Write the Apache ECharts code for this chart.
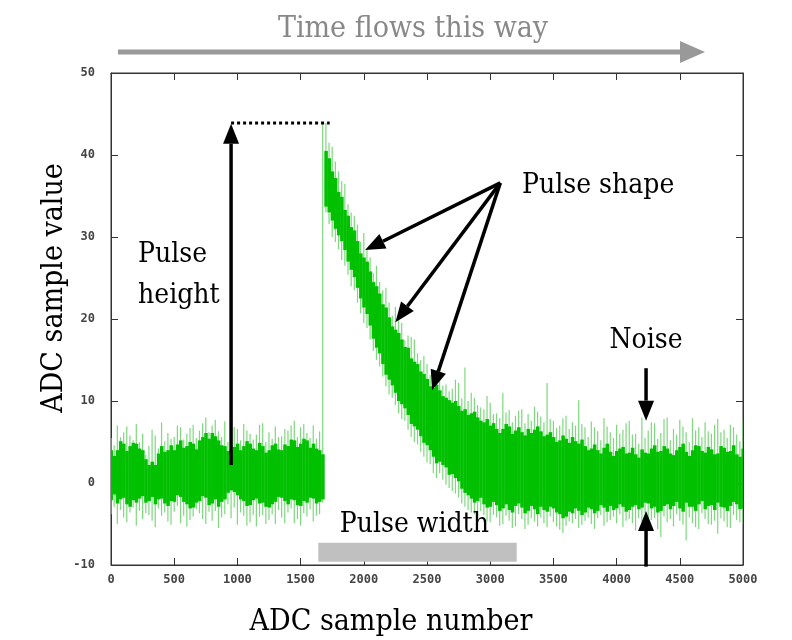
<!DOCTYPE html>
<html>
<head>
<meta charset="utf-8">
<title>ADC pulse</title>
<script src="https://cdn.jsdelivr.net/npm/echarts@6/dist/echarts.min.js"></script>
<style>
  html, body { margin: 0; padding: 0; background: #fff; }
  #main { width: 792px; height: 640px; }
</style>
</head>
<body>
<div id="main"></div>
<script>
// the trace is read as one column every 25 ADC samples (10 columns per row below)
var step = 25;

var xTicks = ['0', '500', '1000', '1500', '2000', '2500', '3000', '3500', '4000', '4500', '5000'];
var yTicks = ['-10', '0', '10', '20', '30', '40', '50'];

// dense (dark green) part of the trace: top and bottom of each column
var coreHi = [
    4.0, 3.3, 4.0, 5.1, 4.8, 3.9, 4.5, 4.9, 4.8, 4.2,
    4.0, 2.9, 2.2, 2.6, 2.2, 3.6, 4.5, 3.8, 4.0, 4.6,
    4.0, 4.7, 5.2, 4.3, 4.5, 5.0, 4.8, 4.1, 5.2, 5.6,
    6.1, 5.4, 6.1, 5.7, 5.2, 4.6, 4.5, 3.9, 4.0, 4.4,
    4.8, 4.0, 4.5, 5.1, 4.8, 4.2, 4.0, 4.9, 4.5, 3.7,
    4.0, 4.6, 4.8, 4.1, 4.0, 4.7, 4.5, 5.3, 5.2, 4.4,
    4.8, 5.4, 5.2, 4.3, 4.8, 4.2, 4.0, 3.5, 40.5, 39.6,
    38, 37.2, 35.5, 34.9, 33.3, 32.6, 31.2, 30.8, 29.5, 28.0,
    27.5, 27.0, 25.8, 24.5, 24, 23.1, 21.8, 21.4, 20.2, 19.1,
    18.7, 18.3, 17.5, 16.6, 16.5, 15.2, 14.8, 14.5, 13.6, 13.3,
    12.7, 11.8, 11.6, 12.0, 11.3, 10.6, 10.4, 10.1, 9.8, 10.0,
    9.4, 8.8, 9.0, 8.3, 8.5, 8.7, 8.0, 7.6, 7.4, 7.8,
    7.0, 7.3, 6.6, 6.1, 6.6, 7.2, 6.9, 6.0, 6.4, 6.8,
    6.2, 5.8, 6.6, 6.1, 6.5, 6.9, 6.3, 5.7, 5.9, 6.2,
    5.6, 5.0, 5.2, 5.8, 5.4, 4.9, 5.6, 5.1, 4.8, 5.3,
    4.5, 4.0, 4.2, 4.7, 4.0, 3.6, 4.3, 4.8, 3.8, 3.3,
    3.9, 4.2, 4.4, 3.6, 3.7, 4.3, 3.5, 3.1, 4.1, 3.7,
    3.6, 4.2, 4.6, 3.8, 3.9, 4.5, 4.2, 3.6, 3.4, 4.0,
    4.4, 4.8, 3.8, 3.3, 4.0, 4.6, 4.5, 3.9, 3.7, 4.4,
    4.1, 3.5, 3.6, 4.5, 4.3, 3.8, 3.9, 4.6, 3.5, 3.2,
    4.2];
var coreLo = [
    -2.1, -1.4, -2.5, -2.0, -1.8, -2.6, -2.9, -2.1, -2.4, -1.9,
    -1.6, -2.4, -2.2, -1.7, -2.6, -2.0, -1.9, -2.5, -2.8, -2.2,
    -2.3, -1.5, -1.7, -2.3, -2.6, -3.1, -3.0, -2.4, -2.2, -1.6,
    -1.8, -2.7, -2.5, -2.0, -2.9, -2.3, -2.0, -1.2, -0.9, -1.1,
    -1.5, -2.0, -2.2, -2.8, -2.7, -2.1, -1.9, -2.5, -2.4, -2.9,
    -3.0, -2.6, -2.3, -1.7, -1.8, -2.2, -2.6, -2.0, -2.1, -2.7,
    -2.8, -2.2, -2.4, -1.8, -1.9, -2.5, -2.3, -2.0, 33.7, 33.0,
    32, 31.0, 30.2, 29.5, 28.4, 27.0, 26, 25.1, 23.8, 22.5,
    21.4, 20.6, 19.2, 17.6, 16.5, 15.8, 14.5, 13.2, 12.6, 11.9,
    11, 10.0, 9.6, 9.1, 8.3, 7.2, 6.9, 6.5, 5.7, 4.9,
    4.6, 4.0, 3.2, 2.4, 2.6, 2.2, 1.9, 1.0, 1.1, 0.6,
    0.2, -0.7, -1.2, -1.5, -1.9, -2.4, -2.2, -1.8, -2.6, -3.0,
    -2.9, -2.3, -2.7, -3.4, -3.1, -2.6, -3.3, -3.6, -2.8, -2.5,
    -3.0, -3.7, -3.4, -2.8, -3.2, -3.8, -2.9, -3.3, -3.5, -2.9,
    -3.1, -3.6, -3.8, -4.3, -4.1, -3.5, -3.7, -3.1, -3.4, -3.9,
    -3.6, -3.0, -3.2, -3.7, -3.4, -2.7, -3.0, -3.5, -2.8, -3.3,
    -3.1, -2.6, -2.9, -3.5, -3.3, -2.9, -2.7, -3.2, -3.0, -2.4,
    -2.5, -3.1, -2.9, -3.6, -3.4, -2.8, -2.6, -3.2, -2.8, -2.3,
    -3.1, -3.5, -2.4, -2.9, -2.9, -3.4, -2.6, -2.2, -3.2, -2.8,
    -2.7, -3.3, -2.4, -2.9, -3.0, -3.4, -2.8, -2.3, -2.6, -3.2,
    -3.1];

// light green spikes sticking out of the dense part
var spikeHi = [
    5.5, 4.6, 7.0, 5.6, 6.2, 6.9, 5.8, 5.2, 7.2, 5.0,
    6.0, 3.4, 4.5, 6.5, 5.8, 4.2, 7.4, 5.1, 6.1, 5.4,
    5.6, 7.0, 6.8, 5.3, 6.0, 6.7, 7.1, 5.5, 6.4, 7.3,
    8.0, 6.2, 7.0, 7.7, 6.3, 5.6, 7.5, 5.0, 5.4, 6.8,
    6.6, 5.2, 7.2, 6.4, 6.0, 5.3, 5.9, 7.1, 7.3, 5.0,
    6.2, 5.4, 6.9, 5.6, 5.7, 6.6, 6.4, 7.0, 7.6, 5.6,
    6.8, 7.2, 6.1, 5.5, 7.0, 5.4, 6.3, 43.9, 43.9, 41.5,
    41, 39.2, 38, 36.8, 36.5, 34.0, 33, 32.6, 31.5, 29.4,
    30.5, 28.6, 27.5, 25.6, 26.5, 24.5, 23.5, 23.8, 22, 20.4,
    21.5, 20.6, 19.5, 17.4, 18, 17.8, 17.5, 15.8, 15, 15.5,
    14.5, 13.2, 13, 13.8, 14.1, 11.9, 12, 11.2, 11.5, 12.6,
    12.2, 10.3, 14.1, 10.0, 11, 10.4, 9.5, 9.2, 9, 10.6,
    9.8, 8.4, 8.5, 7.9, 11, 8.6, 8.9, 7.4, 8.2, 8.8,
    9.0, 7.3, 8.4, 7.6, 9.3, 8.7, 8.1, 7.4, 12.2, 7.8,
    7.6, 6.7, 7.0, 7.9, 8.2, 6.6, 7.4, 7.0, 10.1, 7.2,
    6.8, 5.6, 7.5, 6.8, 6.3, 5.2, 7.9, 6.9, 6.2, 5.5,
    7.1, 6.0, 6.5, 7.3, 7.6, 5.9, 6.0, 4.8, 8.0, 5.5,
    6.4, 7.4, 7.3, 5.4, 6.1, 7.8, 8.0, 5.2, 6.6, 5.9,
    7.7, 6.9, 6.2, 5.0, 7.9, 6.4, 6.8, 5.6, 7.4, 6.3,
    6.0, 7.1, 7.8, 6.2, 6.5, 5.5, 7.1, 6.8, 5.9, 5.1,
    7.5];
var spikeLo = [
    -3.8, -2.9, -5.0, -3.3, -4.2, -4.8, -3.6, -3.0, -5.2, -3.4,
    -4.4, -3.7, -3.9, -4.6, -5.4, -3.1, -4.0, -3.6, -4.7, -5.1,
    -3.5, -2.8, -4.9, -4.0, -5.3, -4.5, -4.1, -3.2, -3.7, -4.4,
    -5.0, -3.5, -4.6, -3.4, -5.5, -4.2, -3.8, -2.6, -4.3, -3.0,
    -5.1, -3.6, -4.0, -5.2, -4.8, -3.9, -5.3, -4.1, -3.9, -5.0,
    -4.5, -3.8, -5.0, -3.3, -4.2, -4.9, -3.6, -3.1, -4.9, -4.4,
    -5.2, -3.7, -4.1, -3.2, -4.7, -4.0, -3.8, -2.4, 33, 31.6,
    30, 29.4, 28.5, 27.2, 26.5, 25.4, 24, 23.5, 22, 20.7,
    19.5, 18.9, 17.5, 16.1, 15, 14.2, 13, 11.8, 10.8, 10.4,
    9.5, 8.5, 7.8, 7.6, 6.5, 5.6, 5, 4.7, 3.8, 3.2,
    2.5, 2.3, 1.2, 0.6, 1.2, 0.4, -0.2, -0.6, -1.0, -1.3,
    -1.8, -2.5, -2.9, -3.3, -3.6, -3.8, -4.4, -3.4, -3.9, -4.7,
    -4.8, -3.9, -4.2, -5.2, -5.0, -4.0, -4.6, -5.5, -5.3, -3.8,
    -4.4, -5.6, -5.1, -4.3, -4.7, -5.3, -4.2, -4.9, -5.4, -4.1,
    -4.8, -5.3, -5.7, -6.1, -5.2, -4.7, -4.9, -4.4, -5.5, -5.1,
    -4.6, -4.2, -5.0, -5.6, -4.3, -3.9, -5.2, -4.8, -4.5, -4.1,
    -4.9, -3.8, -5.4, -4.6, -4.4, -4.9, -5.8, -4.3, -4.7, -3.7,
    -5.2, -4.5, -4.3, -5.6, -6.6, -4.1, -4.8, -4.4, -5.3, -3.8,
    -4.6, -5.1, -7.0, -4.2, -4.9, -5.4, -5.6, -3.7, -4.4, -5.0,
    -5.1, -4.6, -6.2, -4.3, -4.7, -5.4, -5.5, -3.9, -4.5, -4.8,
    -5.0];

// annotations, in data units
var arrows = [
    [950, 2.2, 950, 43.8],       // pulse height
    [3080, 36.6, 2010, 28.4],    // pulse shape
    [3080, 36.6, 2250, 19.6],
    [3080, 36.6, 2540, 11.3],
    [4233, 14.0, 4233, 7.6],     // noise, from above
    [4233, -10.2, 4233, -3.4]    // noise, from below
];
var dotted = [[950, 43.9, 1730, 43.9]];
var widthBar = [1640, -7.3, 3210, -9.6];
var notes = [
    [214, 27.8, 'Pulse', 'left'],
    [214, 22.8, 'height', 'left'],
    [3252, 36.3, 'Pulse shape', 'left'],
    [4233, 17.3, 'Noise', 'center'],
    [2400, -5.1, 'Pulse width', 'center']
];

var serif = "'DejaVu Serif Condensed', 'DejaVu Serif', serif";
var mono = "'DejaVu Sans Mono', monospace";

var traceData = [];
for (var i = 0; i < coreHi.length; i++) {
    traceData.push([i * step, coreLo[i], coreHi[i], spikeLo[i], spikeHi[i]]);
}

function renderTrace(params, api) {
    var x = api.value(0);
    var a = api.coord([x - step / 2, api.value(2)]);
    var b = api.coord([x + step / 2, api.value(1)]);
    var s1 = api.coord([x, api.value(4)]);
    var s2 = api.coord([x, api.value(3)]);
    return {
        type: 'group',
        children: [
            {type: 'line', shape: {x1: s1[0], y1: s1[1], x2: s2[0], y2: s2[1]},
                style: {stroke: '#7ed87e', lineWidth: 1.2}},
            {type: 'rect', shape: {x: a[0], y: a[1], width: b[0] - a[0] + 0.4, height: b[1] - a[1]},
                style: {fill: '#00c000'}}
        ]
    };
}

function arrowShape(api, d) {
    var p = api.coord([d[0], d[1]]);
    var q = api.coord([d[2], d[3]]);
    var dx = q[0] - p[0], dy = q[1] - p[1];
    var len = Math.sqrt(dx * dx + dy * dy);
    var ux = dx / len, uy = dy / len;
    var hl = 20, hw = 8;
    var bx = q[0] - ux * hl, by = q[1] - uy * hl;
    return [
        {type: 'line', shape: {x1: p[0], y1: p[1], x2: bx, y2: by},
            style: {stroke: '#000', lineWidth: 3.5}},
        {type: 'polygon', shape: {points: [[q[0], q[1]], [bx - uy * hw, by + ux * hw], [bx + uy * hw, by - ux * hw]]},
            style: {fill: '#000'}}
    ];
}

function renderNotes(params, api) {
    var kids = [];
    var b1 = api.coord([widthBar[0], widthBar[1]]);
    var b2 = api.coord([widthBar[2], widthBar[3]]);
    kids.push({type: 'rect', shape: {x: b1[0], y: b1[1], width: b2[0] - b1[0], height: b2[1] - b1[1]},
        style: {fill: '#c0c0c0'}});
    dotted.forEach(function (d) {
        var p = api.coord([d[0], d[1]]);
        var q = api.coord([d[2], d[3]]);
        kids.push({type: 'line', shape: {x1: p[0], y1: p[1], x2: q[0], y2: q[1]},
            style: {stroke: '#000', lineWidth: 3, lineDash: [3, 3]}});
    });
    arrows.forEach(function (d) {
        kids = kids.concat(arrowShape(api, d));
    });
    notes.forEach(function (n) {
        var p = api.coord([n[0], n[1]]);
        kids.push({type: 'text', x: p[0], y: p[1],
            style: {text: n[2], fill: '#000', font: '28px ' + serif, textAlign: n[3], textVerticalAlign: 'middle'}});
    });
    return {type: 'group', children: kids};
}

var myChart = echarts.init(document.getElementById('main'));

var tickLabel = {color: '#444', fontFamily: mono, fontWeight: 'bold', fontSize: 12};

var option = {
    animation: false,
    backgroundColor: '#fff',
    title: {
        text: 'Time flows this way',
        left: 408,
        top: 9,
        textAlign: 'center',
        textStyle: {color: '#888', fontFamily: serif, fontWeight: 'normal', fontSize: 30}
    },
    graphic: [
        {type: 'line', shape: {x1: 118, y1: 52, x2: 684, y2: 52}, style: {stroke: '#999', lineWidth: 5}},
        {type: 'polygon', shape: {points: [[680, 41], [705, 52], [680, 63]]}, style: {fill: '#999'}}
    ],
    grid: {
        left: 111, right: 49, top: 73, bottom: 75,
        outerBoundsMode: 'none',
        show: true, borderColor: '#333', borderWidth: 1, backgroundColor: 'transparent'
    },
    xAxis: [
        {
            type: 'value', min: 0, max: 5000, interval: 500,
            name: 'ADC sample number', nameLocation: 'middle', nameGap: 42,
            nameTextStyle: {color: '#000', fontFamily: serif, fontSize: 30, padding: [0, 72, 0, 0]},
            axisLine: {onZero: false, lineStyle: {color: '#333'}},
            axisTick: {inside: true, length: 7, lineStyle: {color: '#333'}},
            axisLabel: Object.assign({margin: 9, formatter: function (v) { return xTicks[v / 500]; }}, tickLabel),
            splitLine: {show: false}
        },
        {
            type: 'value', min: 0, max: 5000, interval: 500, position: 'top',
            axisLine: {onZero: false, lineStyle: {color: '#333'}},
            axisTick: {inside: true, length: 7, lineStyle: {color: '#333'}},
            axisLabel: {show: false},
            splitLine: {show: false}
        }
    ],
    yAxis: [
        {
            type: 'value', min: -10, max: 50, interval: 10,
            name: 'ADC sample value', nameLocation: 'middle', nameGap: 42, nameRotate: 90,
            nameMoveOverlap: false,
            nameTextStyle: {color: '#000', fontFamily: serif, fontSize: 30, padding: [0, 0, 0, 62]},
            axisLine: {show: true, onZero: false, lineStyle: {color: '#333'}},
            axisTick: {show: true, inside: true, length: 7, lineStyle: {color: '#333'}},
            axisLabel: Object.assign({margin: 16, formatter: function (v) { return yTicks[(v + 10) / 10]; }}, tickLabel),
            splitLine: {show: false}
        },
        {
            type: 'value', min: -10, max: 50, interval: 10, position: 'right',
            axisLine: {show: true, onZero: false, lineStyle: {color: '#333'}},
            axisTick: {show: true, inside: true, length: 7, lineStyle: {color: '#333'}},
            axisLabel: {show: false},
            splitLine: {show: false}
        }
    ],
    series: [
        {
            name: 'ADC trace',
            type: 'custom',
            clip: true,
            renderItem: renderTrace,
            encode: {x: 0, y: [1, 2, 3, 4]},
            data: traceData,
            z: 2
        },
        {
            name: 'notes',
            type: 'custom',
            clip: false,
            renderItem: renderNotes,
            data: [[0, 0]],
            z: 5,
            silent: true
        }
    ]
};

myChart.setOption(option);
</script>
</body>
</html>
